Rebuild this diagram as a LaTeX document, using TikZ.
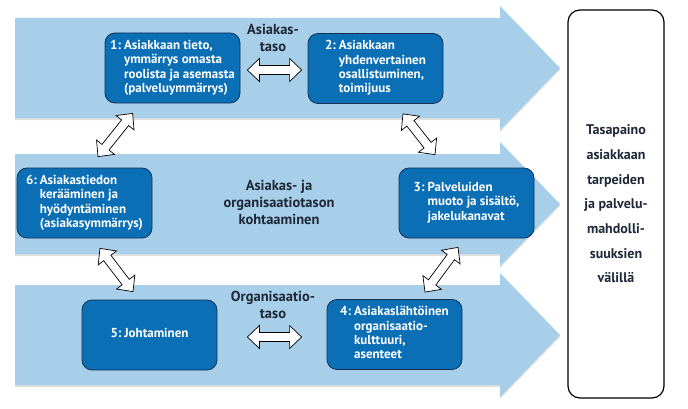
\documentclass[tikz,border=0pt]{standalone}
\usepackage{fontspec}
\setmainfont{PT Sans}
\usepackage{tikz}
\usetikzlibrary{calc}
\definecolor{flow}{RGB}{167,207,234}
\definecolor{stepblue}{RGB}{11,111,182}
\definecolor{navy}{RGB}{22,48,84}
\definecolor{ink}{RGB}{30,40,55}
\newcommand\stp[2]{\begin{tabular}{@{}l@{\hspace{3pt}}l@{}}#1:&#2\end{tabular}}
\newcommand\twoway[2]{%
\path (#1) coordinate (wa) (#2) coordinate (wb)
   ($(wa)!12pt!(wb)$) coordinate (wa1) ($(wb)!12pt!(wa)$) coordinate (wb1);
\draw[way] (wa) -- ($(wa1)!11.5pt!90:(wb)$) -- ($(wa1)!4.5pt!90:(wb)$)
   -- ($(wb1)!4.5pt!-90:(wa)$) -- ($(wb1)!11.5pt!-90:(wa)$) -- (wb)
   -- ($(wb1)!11.5pt!90:(wa)$) -- ($(wb1)!4.5pt!90:(wa)$)
   -- ($(wa1)!4.5pt!-90:(wb)$) -- ($(wa1)!11.5pt!-90:(wb)$) -- cycle;
}

\begin{document}
\begin{tikzpicture}[x=1pt,y=1pt,box/.style={draw=navy,fill=stepblue,text=white,line width=0.8pt,rounded corners=10pt,minimum width=135pt,minimum height=70pt,font=\fontsize{13}{14.3}\selectfont\bfseries},lvl/.style={text=ink,align=center,font=\fontsize{14.5}{17}\selectfont\bfseries},way/.style={draw=black,fill=white,line width=0.7pt,line join=miter}]
\useasboundingbox (0,0) rectangle (688,408);
\foreach \y in %
{340,204,73} {
   \fill[flow,preaction={fill=black!12,transform canvas={yshift=-2pt}}] (15,\y-50) -- (500,\y-50) -- (500,\y-62)
      -- (560,\y) -- (500,\y+62) -- (500,\y+50) -- (15,\y+50) -- cycle;
}
\node[draw,line width=1.2pt,rounded corners=12pt,minimum width=96pt,minimum height=388pt,align=center,text=ink,
   font=\fontsize{14}{24.7}\selectfont\bfseries] (bal) at (616,204)
   {Tasapaino\\asiakkaan\\tarpeiden\\ja palvelu-\\mahdolli-\\suuksien\\välillä};
\node[box] (n1) at (172.5,340) {\stp{1}{Asiakkaan tieto,\\&ymmärrys omasta\\&roolista ja asemasta\\&(palveluymmärrys)}};
\node[box] (n2) at (375.5,339.5) {\stp{2}{Asiakkaan\\&yhdenvertainen\\&osallistuminen,\\&toimijuus}};
\node[box] (n3) at (466.5,205) {\stp{3}{Palveluiden\\&muoto ja sisältö,\\&jakelukanavat}};
\node[box] (n4) at (394.5,73.5) {\stp{4}{Asiakaslähtöinen\\&organisaatio-\\&kulttuuri,\\&asenteet}};
\node[box] (n5) at (149.5,73) {\stp{5}{Johtaminen}};
\node[box] (n6) at (84.5,205) {\stp{6}{Asiakastiedon\\&kerääminen ja\\&hyödyntäminen\\&(asiakasymmärrys)}};
\node[lvl] (l1) at (273,370) {Asiakas-\\taso};
\node[lvl] (l2) at (279,206) {Asiakas- ja\\organisaatiotason\\kohtaaminen};
\node[lvl] (l3) at (273,103.5) {Organisaatio-\\taso};
\twoway{$(n1.east)+(7,-2)$}{$(n2.west)+(-6,-1.5)$}
\twoway{$(n5.east)+(30,-2)$}{$(n4.west)+(-25,-2.5)$}
\twoway{$(n6.north)+(13.5,11)$}{$(n1.south west)+(28,-10)$}
\twoway{$(n2.south)+(27.5,-10)$}{$(n3.north)+(-31.5,13)$}
\twoway{$(n6.south)+(15.5,-10)$}{$(n5.north)+(-16.5,8)$}
\twoway{$(n3.south)+(-8.5,-9)$}{$(n4.north)+(30.5,7)$}
\end{tikzpicture}
\end{document}
